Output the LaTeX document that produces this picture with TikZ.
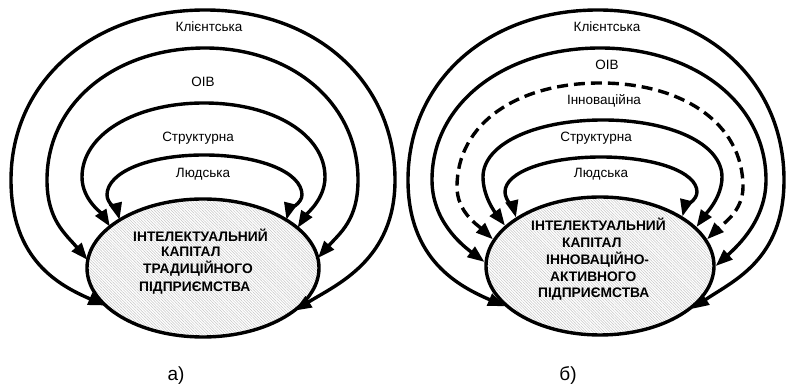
\documentclass[tikz,border=0pt]{standalone}
\usepackage{fontspec}
\setmainfont{Liberation Sans}
\usetikzlibrary{arrows.meta,shapes.geometric,patterns.meta}
\begin{document}
\begin{tikzpicture}[x=1pt,y=1pt,
  arc/.style={line width=3.4pt, {Triangle[length=17pt,width=12.5pt]}-{Triangle[length=17pt,width=12.5pt]}},
  dasharc/.style={arc, dash pattern=on 11pt off 6pt},
  ell/.style={ellipse, draw, line width=3.4pt, inner sep=0pt, preaction={fill=white},
    pattern={Lines[angle=-45,distance=2pt,line width=0.5pt]}, pattern color=gray!45},
  lbl/.style={font=\fontsize{13.5}{13.5}\selectfont, inner sep=0pt, text height=9.3pt, text depth=0pt},
  etxt/.style={font=\bfseries\fontsize{13.8}{13.8}\selectfont, inner sep=0pt, text height=9.9pt, text depth=0pt, anchor=west},
  captxt/.style={font=\fontsize{19}{19}\selectfont, inner sep=0pt}
]
\useasboundingbox (0,0) rectangle (787,387);

% ---------- panel a ----------
\node[ell, minimum width=232pt, minimum height=138pt] (E1) at (203,119) {};
\node[etxt] (a1) at (133,150) {ІНТЕЛЕКТУАЛЬНИЙ};
\node[etxt] (a2) at (161,135) {КАПІТАЛ};
\node[etxt] (a3) at (143,118) {ТРАДИЦІЙНОГО};
\node[etxt] (a4) at (139,100) {ПІДПРИЄМСТВА};

\draw[arc] (E1.201) .. controls +(-46,20) and +(0,-80) .. (11,207)
  .. controls +(0,99) and +(-112,0) .. (205,377)
  .. controls +(110,0) and +(0,99) .. (395,207)
  .. controls +(0,-80) and +(42,26) .. (E1.335);
\draw[arc] (E1.176) .. controls +(-22,26) and +(0,-40) .. (47,207)
  .. controls +(0,77) and +(-90,0) .. (205,339)
  .. controls +(87,0) and +(0,77) .. (358,207)
  .. controls +(0,-40) and +(22,25) .. (E1.5);
\draw[arc] (E1.156) .. controls +(-9,14) and +(0,-22) .. (82,210)
  .. controls +(0,42) and +(-70,0) .. (204,284)
  .. controls +(70,0) and +(0,42) .. (325,210)
  .. controls +(0,-22) and +(9,14) .. (E1.23);
\draw[arc] (E1.150) .. controls +(-2,8) and +(0,-8) .. (107,192)
  .. controls +(0,23) and +(-55,0) .. (204,232)
  .. controls +(55,0) and +(0,23) .. (302,192)
  .. controls +(0,-8) and +(2,8) .. (E1.30);

\node[lbl] (la1) at (209,360) {Клієнтська};
\node[lbl] (la2) at (203,305) {ОІВ};
\node[lbl] (la3) at (198,250) {Структурна};
\node[lbl] (la4) at (203,214) {Людська};
\node[captxt] (ca) at (176,11) {а)};

% ---------- panel b ----------
\node[ell, minimum width=228pt, minimum height=138pt] (E2) at (600,121) {};
\node[etxt] (b1) at (531,161) {ІНТЕЛЕКТУАЛЬНИЙ};
\node[etxt] (b2) at (562,144) {КАПІТАЛ};
\node[etxt] (b3) at (546,127) {ІННОВАЦІЙНО-};
\node[etxt] (b4) at (550,110) {АКТИВНОГО};
\node[etxt] (b5) at (538,94) {ПІДПРИЄМСТВА};

\draw[arc] (E2.203) .. controls +(-46,20) and +(0,-80) .. (408,207)
  .. controls +(0,99) and +(-110,0) .. (598,377)
  .. controls +(108,0) and +(0,99) .. (784,207)
  .. controls +(0,-80) and +(41,28) .. (E2.335);
\draw[arc] (E2.178) .. controls +(-24,18) and +(0,-40) .. (432,207)
  .. controls +(0,77) and +(-95,0) .. (600,339)
  .. controls +(94,0) and +(0,77) .. (766,207)
  .. controls +(0,-40) and +(22,20) .. (E2.0);
\draw[dasharc] (E2.166) .. controls +(-15,14) and +(0,-25) .. (457,200)
  .. controls +(0,64) and +(-82,0) .. (600,304)
  .. controls +(82,0) and +(0,64) .. (743,200)
  .. controls +(0,-25) and +(14,14) .. (E2.14);
\draw[arc] (E2.157) .. controls +(-9,12) and +(0,-20) .. (483,210)
  .. controls +(0,33) and +(-68,0) .. (603,267)
  .. controls +(68,0) and +(0,33) .. (722,210)
  .. controls +(0,-20) and +(10,14) .. (E2.22);
\draw[arc] (E2.150) .. controls +(-2,8) and +(0,-8) .. (505,195)
  .. controls +(0,20) and +(-54,0) .. (601,230)
  .. controls +(54,0) and +(0,20) .. (697,195)
  .. controls +(0,-8) and +(2,8) .. (E2.31);

\node[lbl] (lb1) at (607,360) {Клієнтська};
\node[lbl] (lb2) at (607,322) {ОІВ};
\node[lbl] (lb3) at (604,287) {Інноваційна};
\node[lbl] (lb4) at (596,250) {Структурна};
\node[lbl] (lb5) at (601,214) {Людська};
\node[captxt] (cb) at (568,11) {б)};
\end{tikzpicture}
\end{document}
